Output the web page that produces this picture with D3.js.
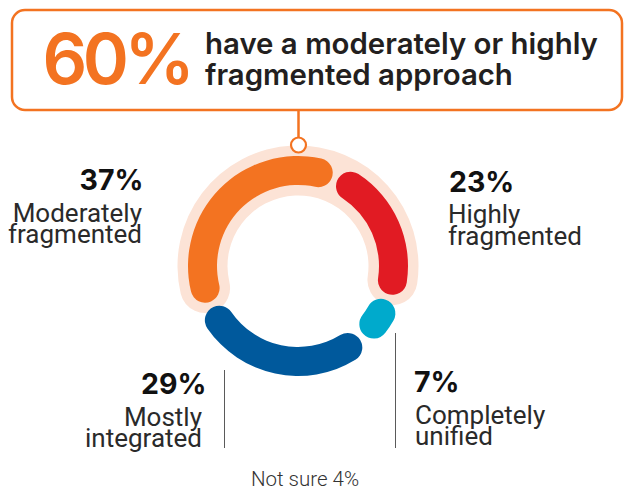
<!DOCTYPE html>
<html>
<head>
<meta charset="utf-8">
<script src="https://cdn.jsdelivr.net/npm/d3@7"></script>
<style>
  html, body { margin: 0; padding: 0; background: #fff; }
  svg { display: block; font-family: Roboto, Inter, "Noto Sans", sans-serif; }
  .inter { font-family: Inter, Roboto, sans-serif; }
</style>
</head>
<body>
<svg id="chart" width="624" height="489"></svg>
<script>
// Survey shares, drawn clockwise from the lower left
const categories = ["Moderately fragmented", "Highly fragmented", "Completely unified", "Mostly integrated"];
const values = [37, 23, 7, 29];
const labelLines = [["Moderately", "fragmented"], ["Highly", "fragmented"], ["Completely", "unified"], ["Mostly", "integrated"]];
const colors = ["#F37321", "#E11B23", "#00AACC", "#00599C"];
const notSureLabel = "Not sure";
const notSureValue = 4;
const headlineLines = ["have a moderately or highly", "fragmented approach"];
const fragmentedKeys = ["Moderately fragmented", "Highly fragmented"];

const svg = d3.select("#chart");
const cx = 298, cy = 266;
const rMid = 95.5, band = 29, halo = 50;

const tau = 2 * Math.PI;
const nSeg = values.length;
// the "not sure" share is left open as the gaps between segments
const gap = (notSureValue / 100) * tau / nSeg;
const start = 246 / 360 * tau;

const pie = d3.pie().sort(null).value(d => d)
  .startAngle(start).endAngle(start + tau).padAngle(gap);
const arcs = pie(values);

const g = svg.append("g").attr("transform", `translate(${cx},${cy})`);

// soft highlight behind the fragmented segments
const fragIdx = fragmentedKeys.map(k => categories.indexOf(k));
const haloExt = ((halo - band) / 2) / rMid;
const haloStart = arcs[fragIdx[0]].startAngle + gap / 2 - haloExt;
const haloEnd = arcs[fragIdx[fragIdx.length - 1]].endAngle - gap / 2 + haloExt;
const haloArc = d3.arc()
  .innerRadius(rMid - halo / 2).outerRadius(rMid + halo / 2)
  .cornerRadius(halo / 2);
g.append("path")
  .attr("d", haloArc({startAngle: haloStart, endAngle: haloEnd}))
  .attr("fill", "#FCE3D6");

const segArc = d3.arc()
  .innerRadius(rMid - band / 2).outerRadius(rMid + band / 2)
  .cornerRadius(band / 2).padRadius(rMid);
g.selectAll("path.seg").data(arcs).join("path")
  .attr("class", "seg")
  .attr("d", segArc)
  .attr("fill", (d, i) => colors[i]);

// headline box with connector to the ring
const fragTotal = fragIdx.reduce((s, i) => s + values[i], 0);
svg.append("line")
  .attr("x1", cx + 0.5).attr("x2", cx + 0.5)
  .attr("y1", 110).attr("y2", cy - rMid - halo / 2 - 8)
  .attr("stroke", "#F37321").attr("stroke-width", 2.5);
svg.append("circle")
  .attr("cx", cx + 0.5).attr("cy", cy - rMid - halo / 2 - 0.5).attr("r", 7.5)
  .attr("fill", "#fff").attr("stroke", "#F37321").attr("stroke-width", 2.2);
svg.append("rect")
  .attr("x", 12).attr("y", 10).attr("width", 610).attr("height", 100)
  .attr("rx", 13)
  .attr("fill", "#fff").attr("stroke", "#F37321").attr("stroke-width", 2.5);
svg.append("text")
  .attr("class", "inter")
  .attr("x", 42.5).attr("y", 83.5)
  .attr("font-size", 70).attr("font-weight", 600).attr("letter-spacing", -4.5)
  .attr("fill", "#F37321")
  .text(fragTotal + "%");
svg.append("text")
  .attr("class", "inter")
  .attr("font-size", 29.4).attr("font-weight", 600).attr("fill", "#231F20")
  .selectAll("tspan").data(headlineLines).join("tspan")
  .attr("x", 205).attr("y", (d, i) => 53.5 + i * 31.5)
  .text(d => d);

// segment labels
const labelPos = [
  {x: 143.5, y: 190, anchor: "end", tx: 142},
  {x: 449, y: 191.5, anchor: "start", tx: 448},
  {x: 414, y: 392, anchor: "start", tx: 415},
  {x: 206.5, y: 394, anchor: "end", tx: 202}
];
const lab = svg.selectAll("g.lab").data(arcs).join("g").attr("class", "lab");
lab.append("text")
  .attr("class", "inter")
  .attr("x", (d, i) => labelPos[i].x).attr("y", (d, i) => labelPos[i].y)
  .attr("text-anchor", (d, i) => labelPos[i].anchor)
  .attr("font-size", 28.5).attr("font-weight", 700).attr("fill", "#111")
  .text(d => d.value + "%");
lab.append("text")
  .attr("text-anchor", (d, i) => labelPos[i].anchor)
  .attr("font-size", 26).attr("font-weight", 400).attr("fill", "#2a2a2a")
  .selectAll("tspan").data((d, i) => labelLines[i].map(t => ({t, i}))).join("tspan")
  .attr("x", d => labelPos[d.i].tx)
  .attr("y", (d, j) => labelPos[d.i].y + 31.5 + j * 21.5)
  .text(d => d.t);

// leader rules beside the lower labels
svg.append("line").attr("x1", 224.5).attr("x2", 224.5).attr("y1", 370).attr("y2", 448)
  .attr("stroke", "#5a5a5a").attr("stroke-width", 1);
svg.append("line").attr("x1", 395.5).attr("x2", 395.5).attr("y1", 333).attr("y2", 448)
  .attr("stroke", "#5a5a5a").attr("stroke-width", 1);

svg.append("text")
  .attr("x", 305).attr("y", 485.5).attr("text-anchor", "middle")
  .attr("font-size", 20.5).attr("font-weight", 300).attr("fill", "#333")
  .text(`${notSureLabel} ${notSureValue}%`);
</script>
</body>
</html>
